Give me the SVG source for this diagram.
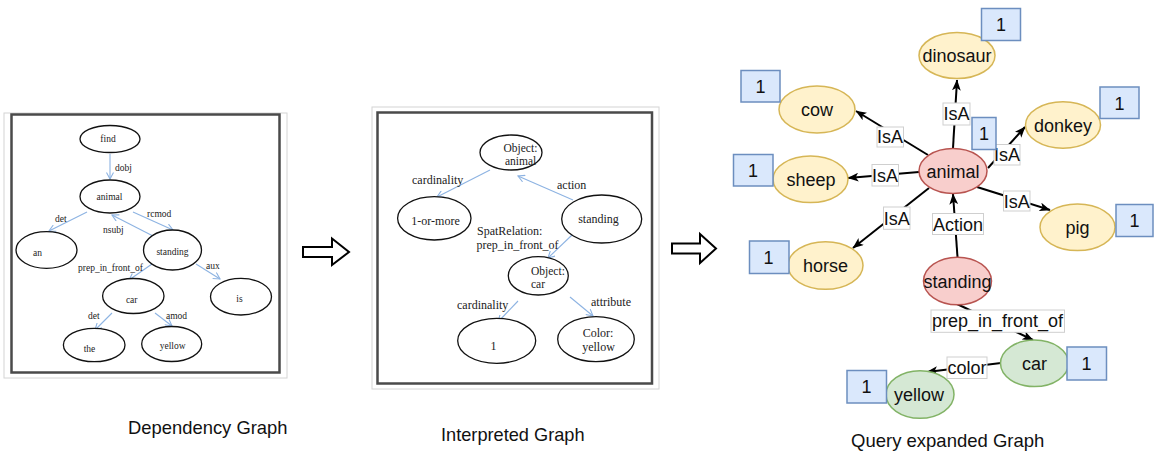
<svg xmlns="http://www.w3.org/2000/svg" width="1154" height="451" viewBox="0 0 1154 451">
  <defs>
    <style>
      .frame-outer { fill: #ffffff; stroke: #d4d4d4; stroke-width: 1; }
      .frame-inner { fill: none; stroke: #4a4a4a; stroke-width: 2.5; }
      .p-node { fill: #ffffff; stroke: #111111; stroke-width: 1.3; }
      .p-edge { fill: none; stroke: #8db3e2; stroke-width: 1.1; }
      .dep { font-family: "Liberation Serif", "Times New Roman", serif; font-size: 9.5px; fill: #222222; }
      .interp { font-family: "Liberation Serif", "Times New Roman", serif; font-size: 12px; fill: #222222; }
      .interp-node { font-size: 11.5px; }
      .mid { text-anchor: middle; }
      .big-arrow { fill: #ffffff; stroke: #000000; stroke-width: 2; stroke-linejoin: miter; }
      .caption { font-family: "Liberation Sans", Arial, sans-serif; fill: #111111; }
      .q-edge { fill: none; stroke: #000000; stroke-width: 2; }
      .q-label-box { fill: #ffffff; stroke: #cfcfcf; stroke-width: 1; }
      .q-text { font-family: "Liberation Sans", Arial, sans-serif; font-size: 18px; fill: #111111; text-anchor: middle; }
      .yel { fill: #fff2cc; stroke: #d6b656; stroke-width: 1.5; }
      .red { fill: #f8cecc; stroke: #b85450; stroke-width: 1.5; }
      .grn { fill: #d5e8d4; stroke: #82b366; stroke-width: 1.5; }
      .cnt { fill: #dae8fc; stroke: #6c8ebf; stroke-width: 1.5; }
    </style>
    <marker id="vhead" viewBox="0 0 8 8" refX="7" refY="4" markerWidth="8" markerHeight="8" markerUnits="userSpaceOnUse" orient="auto">
      <path d="M0.5,0.5 L7,4 L0.5,7.5" fill="none" stroke="#8db3e2" stroke-width="1.1"/>
    </marker>
    <marker id="classic" viewBox="0 0 10 8" refX="9.5" refY="4" markerWidth="11" markerHeight="9" markerUnits="userSpaceOnUse" orient="auto">
      <path d="M0,0 L10,4 L0,8 L2.5,4 Z" fill="#000000"/>
    </marker>
  </defs>

  <rect width="1154" height="451" fill="#ffffff"/>

  <!-- ===== Dependency graph ===== -->
  <g id="dependency-panel">
    <rect class="frame-outer" x="4" y="113" width="283" height="265"/>
    <rect class="frame-inner" x="11.5" y="114.5" width="268" height="258"/>
  </g>
  <g id="dep-connectors">
    <path class="p-edge" d="M110,154 L110,179" marker-end="url(#vhead)"/>
    <path class="p-edge" d="M87,212 L49,231" marker-end="url(#vhead)"/>
    <path class="p-edge" d="M133,212 L173,230" marker-end="url(#vhead)"/>
    <path class="p-edge" d="M153,236 L112,215" marker-end="url(#vhead)"/>
    <path class="p-edge" d="M152,264 L129,280" marker-end="url(#vhead)"/>
    <path class="p-edge" d="M196,264 L220,279" marker-end="url(#vhead)"/>
    <path class="p-edge" d="M112,313 L95,330" marker-end="url(#vhead)"/>
    <path class="p-edge" d="M155,313 L172,326" marker-end="url(#vhead)"/>
    <text class="dep" x="115" y="171">dobj</text>
    <text class="dep" x="55" y="222">det</text>
    <text class="dep" x="147" y="217">rcmod</text>
    <text class="dep" x="103" y="233">nsubj</text>
    <text class="dep" x="78" y="271">prep_in_front_of</text>
    <text class="dep" x="206" y="269">aux</text>
    <text class="dep" x="88" y="318.5">det</text>
    <text class="dep" x="166" y="318.5">amod</text>
  </g>
  <g id="dep-find"><ellipse class="p-node" cx="110" cy="139" rx="30" ry="13.5"/><text class="dep mid" x="108" y="141.5">find</text></g>
  <g id="dep-animal"><ellipse class="p-node" cx="110" cy="196.5" rx="30" ry="16.5"/><text class="dep mid" x="109.5" y="200">animal</text></g>
  <g id="dep-an"><ellipse class="p-node" cx="46.5" cy="250" rx="30.5" ry="18.3"/><text class="dep mid" x="37.5" y="256">an</text></g>
  <g id="dep-standing"><ellipse class="p-node" cx="172.5" cy="250" rx="29" ry="20"/><text class="dep mid" x="172.5" y="255">standing</text></g>
  <g id="dep-car"><ellipse class="p-node" cx="133.3" cy="296" rx="30.7" ry="17.5"/><text class="dep mid" x="131.7" y="302.5">car</text></g>
  <g id="dep-is"><ellipse class="p-node" cx="241" cy="296.7" rx="30.5" ry="18.3"/><text class="dep mid" x="239.5" y="301.5">is</text></g>
  <g id="dep-the"><ellipse class="p-node" cx="94.2" cy="345" rx="30.8" ry="16.7"/><text class="dep mid" x="89.5" y="351.5">the</text></g>
  <g id="dep-yellow"><ellipse class="p-node" cx="171.7" cy="344" rx="30" ry="17.5"/><text class="dep mid" x="172.7" y="348.5">yellow</text></g>

  <!-- transition arrows -->
  <path id="arrow-1" class="big-arrow" d="M303,247 L332,247 L332,238.5 L349,252 L332,265 L332,257 L303,257 Z"/>
  <path id="arrow-2" class="big-arrow" d="M672,243.5 L700,243.5 L700,234 L716,248.5 L700,263 L700,253.5 L672,253.5 Z"/>

  <!-- ===== Interpreted graph ===== -->
  <g id="interpreted-panel">
    <rect class="frame-outer" x="372" y="107" width="287" height="282"/>
    <rect class="frame-inner" x="377.5" y="112.5" width="274.5" height="271"/>
  </g>
  <g id="interp-connectors">
    <path class="p-edge" d="M490,170 L437,197" marker-end="url(#vhead)"/>
    <path class="p-edge" d="M573,200 L518,176" marker-end="url(#vhead)"/>
    <path class="p-edge" d="M572,235 L548,258" marker-end="url(#vhead)"/>
    <path class="p-edge" d="M518,301 L498,322" marker-end="url(#vhead)"/>
    <path class="p-edge" d="M570,297 L593,316" marker-end="url(#vhead)"/>
    <text class="interp" x="412" y="183.5">cardinality</text>
    <text class="interp" x="557" y="188.5">action</text>
    <text class="interp" x="477" y="235">SpatRelation:</text>
    <text class="interp" x="476.5" y="248.5">prep_in_front_of</text>
    <text class="interp" x="457" y="308.5">cardinality</text>
    <text class="interp" x="591" y="306">attribute</text>
  </g>
  <g id="int-object-animal"><ellipse class="p-node" cx="511" cy="152.5" rx="31" ry="17.5"/>
    <text class="interp interp-node" x="503.5" y="151.5">Object:</text>
    <text class="interp interp-node" x="505" y="164.5">animal</text></g>
  <g id="int-one-or-more"><ellipse class="p-node" cx="434.3" cy="218.3" rx="36.7" ry="21.7"/><text class="interp mid" x="435.5" y="225">1-or-more</text></g>
  <g id="int-standing"><ellipse class="p-node" cx="601.7" cy="219" rx="40" ry="24"/><text class="interp mid" x="598.5" y="223">standing</text></g>
  <g id="int-object-car"><ellipse class="p-node" cx="538.3" cy="275.8" rx="30" ry="19.2"/>
    <text class="interp interp-node" x="531" y="274.5">Object:</text>
    <text class="interp interp-node" x="531" y="287.5">car</text></g>
  <g id="int-one"><ellipse class="p-node" cx="496.7" cy="340.8" rx="39" ry="22.5"/><text class="interp mid" x="493.5" y="350">1</text></g>
  <g id="int-color-yellow"><ellipse class="p-node" cx="596" cy="339.2" rx="38.3" ry="22.5"/>
    <text class="interp mid" x="598" y="337">Color:</text>
    <text class="interp mid" x="598.5" y="350.5">yellow</text></g>

  <!-- ===== Query expanded graph ===== -->
  <g id="query-connectors">
    <path class="q-edge" d="M953,148 L957,80" marker-end="url(#classic)"/>
    <path class="q-edge" d="M928,155 L856,111" marker-end="url(#classic)"/>
    <path class="q-edge" d="M919,172 L848,178" marker-end="url(#classic)"/>
    <path class="q-edge" d="M988,168 L1025,127" marker-end="url(#classic)"/>
    <path class="q-edge" d="M977,187 L1050,210" marker-end="url(#classic)"/>
    <path class="q-edge" d="M929,188 L853,248" marker-end="url(#classic)"/>
    <path class="q-edge" d="M957.5,257 L953,194" marker-end="url(#classic)"/>
    <path class="q-edge" d="M957,304 L1033,340" marker-end="url(#classic)"/>
    <path class="q-edge" d="M1001,363 L927,372" marker-end="url(#classic)"/>

    <rect class="q-label-box" x="943" y="103" width="27" height="22"/>
    <text class="q-text" x="956.5" y="120">IsA</text>
    <rect class="q-label-box" x="877" y="127" width="26.5" height="20"/>
    <text class="q-text" x="890" y="143">IsA</text>
    <rect class="q-label-box" x="872" y="164.5" width="26.5" height="21.5"/>
    <text class="q-text" x="885" y="181.5">IsA</text>
    <rect class="q-label-box" x="994" y="144.5" width="26" height="20.5"/>
    <text class="q-text" x="1007" y="161">IsA</text>
    <rect class="q-label-box" x="1003.5" y="191" width="26.5" height="20"/>
    <text class="q-text" x="1016.7" y="207.5">IsA</text>
    <rect class="q-label-box" x="883.5" y="207" width="26.5" height="22.3"/>
    <text class="q-text" x="896.7" y="224.5">IsA</text>
    <rect class="q-label-box" x="932.5" y="213.5" width="51" height="21"/>
    <text class="q-text" x="958" y="230.5">Action</text>
    <rect class="q-label-box" x="931" y="310" width="133.5" height="22.3"/>
    <text class="q-text" x="997.5" y="327">prep_in_front_of</text>
    <rect class="q-label-box" x="947" y="357" width="40" height="21.5"/>
    <text class="q-text" x="967" y="373.5">color</text>
  </g>

  <g id="q-dinosaur"><ellipse class="yel" cx="957" cy="55.5" rx="38" ry="23"/><text class="q-text" x="957" y="62">dinosaur</text>
    <rect class="cnt" x="981.5" y="8.5" width="39" height="32"/><text class="q-text" x="1001" y="31">1</text></g>
  <g id="q-cow"><ellipse class="yel" cx="817" cy="109.5" rx="38" ry="23.5"/><text class="q-text" x="817" y="116">cow</text>
    <rect class="cnt" x="741" y="70.5" width="39" height="31.5"/><text class="q-text" x="760.5" y="93">1</text></g>
  <g id="q-animal"><ellipse class="red" cx="953" cy="171" rx="34" ry="22.5"/><text class="q-text" x="953" y="177.5">animal</text>
    <rect class="cnt" x="972" y="117.5" width="24" height="32"/><text class="q-text" x="984" y="140">1</text></g>
  <g id="q-donkey"><ellipse class="yel" cx="1063" cy="125" rx="37.5" ry="23.3"/><text class="q-text" x="1063" y="131.5">donkey</text>
    <rect class="cnt" x="1100" y="87" width="39" height="31.5"/><text class="q-text" x="1119.5" y="109.5">1</text></g>
  <g id="q-sheep"><ellipse class="yel" cx="810.5" cy="179.3" rx="37.5" ry="23.3"/><text class="q-text" x="811" y="185.5">sheep</text>
    <rect class="cnt" x="733.5" y="154.5" width="39.5" height="31.5"/><text class="q-text" x="753" y="177">1</text></g>
  <g id="q-pig"><ellipse class="yel" cx="1077.5" cy="227.3" rx="37.5" ry="23.3"/><text class="q-text" x="1077.5" y="234">pig</text>
    <rect class="cnt" x="1116" y="204.5" width="37" height="32"/><text class="q-text" x="1134.5" y="227">1</text></g>
  <g id="q-horse"><ellipse class="yel" cx="825.5" cy="265.5" rx="37.5" ry="23.8"/><text class="q-text" x="825.5" y="272">horse</text>
    <rect class="cnt" x="749.5" y="241" width="39.5" height="32.5"/><text class="q-text" x="768.5" y="264">1</text></g>
  <g id="q-standing"><ellipse class="red" cx="957.5" cy="281" rx="34" ry="23.8"/><text class="q-text" x="957.5" y="287.5">standing</text></g>
  <g id="q-car"><ellipse class="grn" cx="1034.5" cy="363.3" rx="34" ry="23.3"/><text class="q-text" x="1034.5" y="370">car</text>
    <rect class="cnt" x="1067" y="347" width="39.5" height="33"/><text class="q-text" x="1086.5" y="370">1</text></g>
  <g id="q-yellow"><ellipse class="grn" cx="920" cy="394.5" rx="34" ry="23.8"/><text class="q-text" x="919" y="401">yellow</text>
    <rect class="cnt" x="847" y="370.5" width="39.5" height="32.5"/><text class="q-text" x="866.5" y="393">1</text></g>

  <!-- captions -->
  <text class="caption" x="128" y="434" font-size="18.4">Dependency Graph</text>
  <text class="caption" x="441" y="441" font-size="18.2">Interpreted Graph</text>
  <text class="caption" x="851" y="446.5" font-size="18.5">Query expanded Graph</text>
</svg>
